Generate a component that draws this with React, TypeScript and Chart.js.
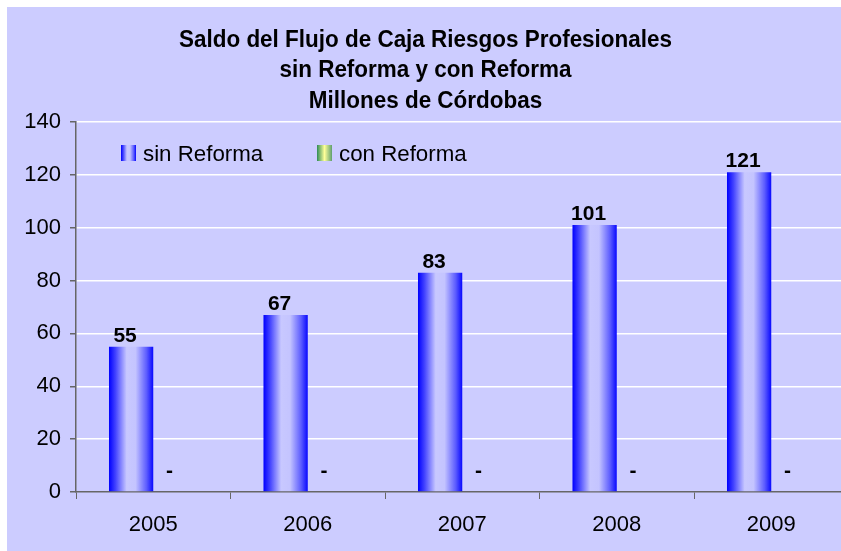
import React, { useEffect, useRef } from 'react';
import { Chart, registerables } from 'chart.js';

Chart.register(...registerables);

const titleLines = ['Saldo del Flujo de Caja Riesgos Profesionales', 'sin Reforma y con Reforma', 'Millones de Córdobas'];
const categories = ['2005', '2006', '2007', '2008', '2009'];
const seriesNames = ['sin Reforma', 'con Reforma'];
const sinReforma = [55, 67, 83, 101, 121];
const conReforma = [0, 0, 0, 0, 0];
const yTicks = [0, 20, 40, 60, 80, 100, 120, 140];

const BG = '#ccccff';
const AXIS = '#666666';
const FONT = '"Liberation Sans", Arial, sans-serif';
const CAT_PCT = 0.573;

const blueStops: [number, string][] = [[0, '#0000ff'], [0.15, '#4444ff'], [0.4, '#c8c8ff'], [0.6, '#c4c4ff'], [0.85, '#5c5cff'], [1, '#0808ff']];
const greenStops: [number, string][] = [[0, '#2e8b57'], [0.5, '#ffff99'], [1, '#5f9f6f']];

function barFill(stops: [number, string][]) {
  return (ctx: any) => {
    const chart = ctx.chart;
    const xs = chart.scales && chart.scales.x;
    if (!xs || ctx.type !== 'data' || !isFinite(xs.width)) return stops[0][1];
    const catW = xs.width / categories.length;
    const barW = (catW * CAT_PCT) / 2;
    const c = xs.getPixelForValue(ctx.dataIndex);
    const left = c - barW + ctx.datasetIndex * barW;
    const g = chart.ctx.createLinearGradient(left, 0, left + barW, 0);
    stops.forEach(([o, col]) => g.addColorStop(o, col));
    return g;
  };
}

const bgPlugin = {
  id: 'bgFill',
  beforeDraw(chart: any) {
    const c = chart.ctx;
    c.save();
    c.fillStyle = BG;
    c.fillRect(0, 0, chart.width, chart.height);
    c.restore();
  },
};

function drawSqueezed(c: CanvasRenderingContext2D, text: string, cx: number, y: number, targetScale: number) {
  c.save();
  c.translate(cx, y);
  c.scale(targetScale, 1);
  c.fillText(text, 0, 0);
  c.restore();
}

const titlePlugin = {
  id: 'titleLines',
  afterDraw(chart: any) {
    const c = chart.ctx;
    c.save();
    c.fillStyle = '#000';
    c.font = `bold 23.5px ${FONT}`;
    c.textAlign = 'center';
    c.textBaseline = 'alphabetic';
    const baselines = [40, 70, 100.5];
    const w0 = c.measureText(titleLines[0]).width;
    const s = 493 / w0;
    titleLines.forEach((t, i) => drawSqueezed(c, t, 418.5, baselines[i], s));
    c.restore();
  },
};

const legendPlugin = {
  id: 'insideLegend',
  afterDraw(chart: any) {
    const c = chart.ctx;
    c.save();
    const items = [
      { sx: 114, tx: 136, stops: blueStops, label: seriesNames[0] },
      { sx: 310, tx: 332, stops: greenStops, label: seriesNames[1] },
    ];
    items.forEach((it) => {
      const g = c.createLinearGradient(it.sx, 0, it.sx + 15, 0);
      it.stops.forEach(([o, col]) => g.addColorStop(o, col));
      c.fillStyle = g;
      c.fillRect(it.sx, 138, 15, 16);
      c.fillStyle = '#000';
      c.font = `22.3px ${FONT}`;
      c.textAlign = 'left';
      c.textBaseline = 'alphabetic';
      c.fillText(it.label, it.tx, 154);
    });
    c.restore();
  },
};

const valueLabelPlugin = {
  id: 'valueLabels',
  afterDatasetsDraw(chart: any) {
    const c = chart.ctx;
    c.save();
    c.fillStyle = '#000';
    c.font = `bold 21px ${FONT}`;
    c.textAlign = 'center';
    c.textBaseline = 'alphabetic';
    chart.data.datasets.forEach((ds: any, di: number) => {
      const meta = chart.getDatasetMeta(di);
      meta.data.forEach((el: any, i: number) => {
        const v = ds.data[i];
        const txt = v === 0 ? '-' : String(v);
        const y = v === 0 ? el.y - 15.5 : el.y - 5;
        c.fillText(txt, el.x - 6, y);
      });
    });
    c.restore();
  },
};

export default function App() {
  const ref = useRef<HTMLCanvasElement | null>(null);

  useEffect(() => {
    if (!ref.current) return;
    const chart = new Chart(ref.current, {
      type: 'bar',
      data: {
        labels: categories,
        datasets: [
          { label: seriesNames[0], data: sinReforma, backgroundColor: barFill(blueStops) as any, borderWidth: 0, categoryPercentage: CAT_PCT, barPercentage: 1 },
          { label: seriesNames[1], data: conReforma, backgroundColor: barFill(greenStops) as any, borderWidth: 0, categoryPercentage: CAT_PCT, barPercentage: 1 },
        ],
      },
      options: {
        responsive: false,
        animation: false,
        devicePixelRatio: 1,
        layout: { padding: { top: 115, right: 8.5, left: 0, bottom: 0 } },
        plugins: { legend: { display: false }, title: { display: false }, tooltip: { enabled: false } },
        scales: {
          x: {
            afterFit: (s: any) => { s.height = 60; },
            grid: { display: true, drawOnChartArea: false, drawTicks: true, tickLength: 7, tickColor: AXIS, offset: true },
            border: { display: true, color: AXIS, width: 1.5 },
            ticks: { color: '#000', font: { family: FONT, size: 22 }, padding: 13, maxRotation: 0 },
          },
          y: {
            min: 0,
            max: 140,
            afterFit: (s: any) => { s.width = 69; },
            afterBuildTicks: (s: any) => { s.ticks = yTicks.map((v) => ({ value: v })); },
            grid: {
              color: (ctx: any) => (ctx.tick && ctx.tick.value === 0 ? 'rgba(0,0,0,0)' : '#ffffff'),
              lineWidth: 1.5,
              drawTicks: true,
              tickLength: 6,
              tickColor: AXIS,
            },
            border: { display: true, color: AXIS, width: 1.5 },
            ticks: { color: '#000', font: { family: FONT, size: 22 }, padding: 9 },
          },
        },
      },
      plugins: [bgPlugin, titlePlugin, legendPlugin, valueLabelPlugin],
    });
    return () => chart.destroy();
  }, []);

  return (
    <div style={{ position: 'fixed', left: 7, top: 7, width: 834, height: 544, overflow: 'hidden', background: BG }}>
      <canvas ref={ref} width={850} height={545} style={{ width: 850, height: 545, display: 'block' }} />
    </div>
  );
}
